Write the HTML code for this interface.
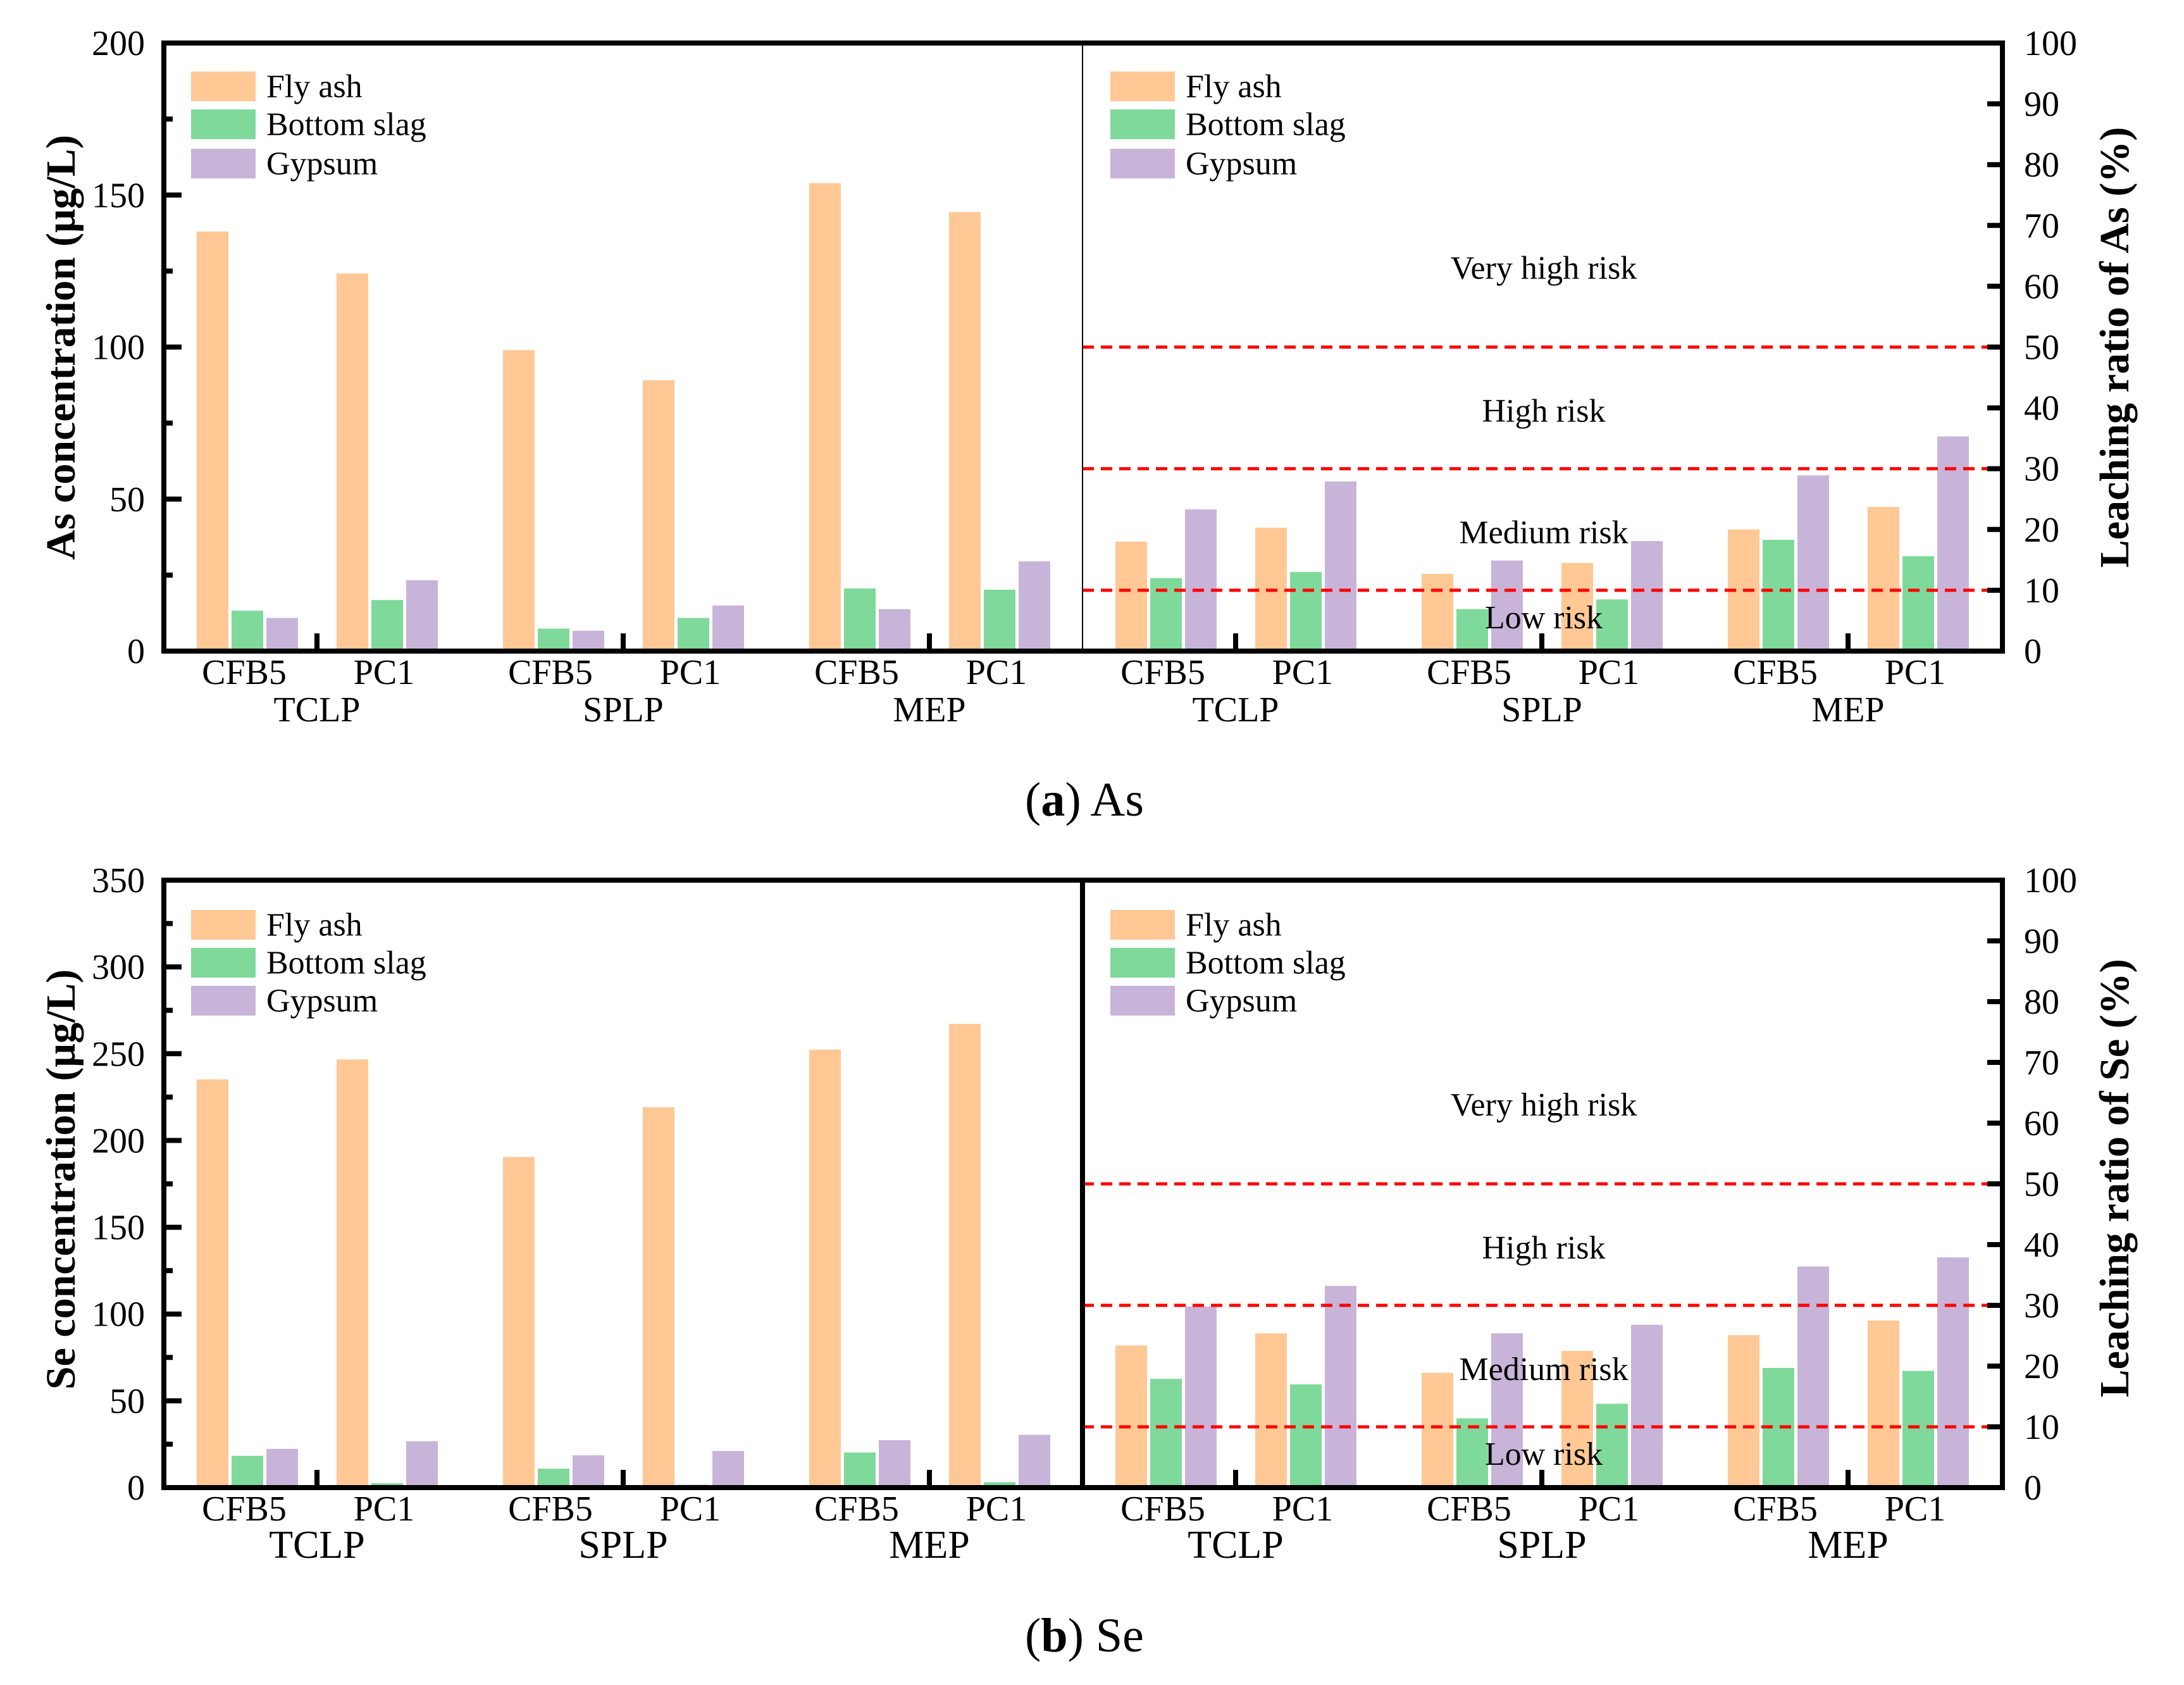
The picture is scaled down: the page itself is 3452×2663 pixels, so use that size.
<!DOCTYPE html>
<html><head><meta charset="utf-8"><style>
html,body{margin:0;padding:0;background:#fff;}
svg{display:block;}
svg text{font-family:"Liberation Serif","DejaVu Serif",serif;}
</style></head><body>
<svg id="chart" xmlns="http://www.w3.org/2000/svg" width="3452" height="2663" viewBox="0 0 3452 2663" font-family="Liberation Serif, serif">
</svg>
<script>
// ---- data ----
const methods = ["TCLP", "SPLP", "MEP"];
const samples = ["CFB5", "PC1"];
const seriesNames = ["Fly ash", "Bottom slag", "Gypsum"];
const seriesColors = ["#FFC895", "#7FD99A", "#C8B4D8"];
// As concentration (µg/L), order: TCLP-CFB5, TCLP-PC1, SPLP-CFB5, SPLP-PC1, MEP-CFB5, MEP-PC1
const asFlyAsh = [138.0, 124.2, 99.0, 89.1, 153.9, 144.4];
const asBottomSlag = [13.3, 16.8, 7.4, 10.9, 20.6, 20.2];
const asGypsum = [10.9, 23.3, 6.7, 15.0, 13.8, 29.5];
// As leaching ratio (%)
const asRatioFlyAsh = [18.0, 20.3, 12.7, 14.5, 20.0, 23.7];
const asRatioBottomSlag = [12.0, 13.0, 6.9, 8.5, 18.3, 15.6];
const asRatioGypsum = [23.3, 27.9, 14.9, 18.1, 28.9, 35.3];
// Se concentration (µg/L)
const seFlyAsh = [235.2, 246.7, 190.5, 219.1, 252.3, 267.2];
const seBottomSlag = [18.3, 2.5, 10.9, 1.6, 20.2, 3.1];
const seGypsum = [22.3, 26.7, 18.6, 21.1, 27.3, 30.4];
// Se leaching ratio (%)
const seRatioFlyAsh = [23.4, 25.4, 18.9, 22.5, 25.1, 27.5];
const seRatioBottomSlag = [17.9, 17.0, 11.4, 13.8, 19.7, 19.2];
const seRatioGypsum = [29.8, 33.2, 25.4, 26.8, 36.4, 37.9];
// risk thresholds (%) and labels
const riskLines = [10, 30, 50];
const riskLabels = ["Low risk", "Medium risk", "High risk", "Very high risk"];
const riskLabelValues = [5.5, 19.5, 39.5, 63];
const asTicks = [0, 50, 100, 150, 200];
const seTicks = [0, 50, 100, 150, 200, 250, 300, 350];
const ratioTicks = [0, 10, 20, 30, 40, 50, 60, 70, 80, 90, 100];

const NS = "http://www.w3.org/2000/svg";
const svg = document.getElementById("chart");
const FONT = '"Liberation Serif", "DejaVu Serif", serif';
function mk(tag, attrs, parent) {
  const e = document.createElementNS(NS, tag);
  for (const k in attrs) e.setAttribute(k, attrs[k]);
  (parent || svg).appendChild(e);
  return e;
}
function txt(s, attrs, parent) { attrs["font-family"] = FONT; const t = mk("text", attrs, parent); t.textContent = s; return t; }

const L = 259, MID = 1711, R = 3165;

function drawPanel(cfg) {
  const g = mk("g", {});
  
  
  const top = cfg.top, bot = cfg.bottom;
  const yL = v => bot - v / cfg.leftMax * (bot - top);
  const yR = v => bot - v / 100 * (bot - top);
  const gw = (MID - L) / 3;
  function bars(x0, series, yf, side) {
    for (let m = 0; m < 3; m++) {
      for (let s = 0; s < 2; s++) {
        const center = x0 + gw * m + (s === 0 ? 127 : 348);
        for (let k = 0; k < 3; k++) {
          const v = series[k][m * 2 + s];
          const x = center - 75 + k * 55;
          const r = mk("rect", {x: x, y: yf(v), width: 50, height: yf(0) - yf(v), fill: seriesColors[k]}, g);
          
          
        }
        const lab = txt(samples[s], {x: center, y: bot + 52, "font-size": 56, "text-anchor": "middle"}, g);
        
        
      }
      const ml = txt(methods[m], {x: x0 + gw * m + 242, y: bot + 111, "font-size": cfg.methodFont, "text-anchor": "middle"}, g);
      
      
      mk("line", {x1: x0 + gw * m + 242, x2: x0 + gw * m + 242, y1: bot, y2: bot - 28, stroke: "#000", "stroke-width": 8}, g);
    }
  }
  bars(L, cfg.left, yL, 'left');
  bars(MID, cfg.right, yR, 'right');
  riskLines.forEach(v => {
    const l = mk("line", {x1: MID, x2: R, y1: yR(v), y2: yR(v), stroke: "#ff0000", "stroke-width": 5, "stroke-dasharray": "18 11"}, g);
    
    
  });
  riskLabels.forEach((s, i) => {
    const t = txt(s, {x: 2440, y: yR(riskLabelValues[i]) + 17, "font-size": 52, "text-anchor": "middle"}, g);
    
    
  });
  mk("rect", {x: L, y: top, width: R - L, height: bot - top, fill: "none", stroke: "#000", "stroke-width": 8}, g);
  mk("line", {x1: MID, x2: MID, y1: top, y2: bot, stroke: "#000", "stroke-width": cfg.divW}, g);
  const step = cfg.leftTicks[1] - cfg.leftTicks[0];
  cfg.leftTicks.forEach(v => {
    if (v > 0 && v < cfg.leftMax) mk("line", {x1: L, x2: L + 28, y1: yL(v), y2: yL(v), stroke: "#000", "stroke-width": 8}, g);
    if (v < cfg.leftMax) mk("line", {x1: L, x2: L + 14, y1: yL(v + step / 2), y2: yL(v + step / 2), stroke: "#000", "stroke-width": 8}, g);
    const t = txt(String(v), {x: 229, y: yL(v) + 19, "font-size": 56, "text-anchor": "end"}, g);
    
    
  });
  ratioTicks.forEach(v => {
    if (v > 0 && v < 100) mk("line", {x1: R, x2: R - 24, y1: yR(v), y2: yR(v), stroke: "#000", "stroke-width": 8}, g);
    const t = txt(String(v), {x: 3199, y: yR(v) + 19, "font-size": 56}, g);
    
    
  });
  const lt = txt(cfg.leftTitle, {x: 0, y: 0, "font-size": 66, "font-weight": "bold", "text-anchor": "middle", transform: "translate(118," + cfg.leftTitleY + ") rotate(-90)"}, g);
  
  
  const rt = txt(cfg.rightTitle, {x: 0, y: 0, "font-size": 66, "font-weight": "bold", "text-anchor": "middle", transform: "translate(3364," + cfg.rightTitleY + ") rotate(-90)"}, g);
  
  
  [302, 1755].forEach((lx, li) => {
    const lg = mk("g", {}, g);
    
    
    seriesNames.forEach((s, k) => {
      const yy = cfg.legendY[k];
      mk("rect", {x: lx, y: yy, width: 102, height: cfg.legendH, fill: seriesColors[k]}, lg);
      const t = txt(s, {x: lx + 119, y: yy + cfg.legendH / 2 + 17, "font-size": 52}, lg);
      
      
    });
  });
  const cap = txt("", {x: 1620, y: cfg.capY, "font-size": 76}, g);
  
  
  cap.innerHTML = '(<tspan font-weight="bold">' + cfg.capLetter + '</tspan>) ' + cfg.capText;
}

drawPanel({name: "panel-a-as", top: 68, bottom: 1029, leftMax: 200, leftTicks: asTicks,
  left: [asFlyAsh, asBottomSlag, asGypsum], right: [asRatioFlyAsh, asRatioBottomSlag, asRatioGypsum],
  leftTitle: "As concentration (μg/L)", rightTitle: "Leaching ratio of As (%)", leftTitleY: 549, rightTitleY: 549,
  legendY: [113, 173, 235], legendH: 47, divW: 2, methodFont: 56, capY: 1289, capLetter: "a", capText: "As"});
drawPanel({name: "panel-b-se", top: 1391, bottom: 2351, leftMax: 350, leftTicks: seTicks,
  left: [seFlyAsh, seBottomSlag, seGypsum], right: [seRatioFlyAsh, seRatioBottomSlag, seRatioGypsum],
  leftTitle: "Se concentration (μg/L)", rightTitle: "Leaching ratio of Se (%)", leftTitleY: 1864, rightTitleY: 1862,
  legendY: [1438, 1498, 1558], legendH: 47, divW: 8, methodFont: 62, capY: 2610, capLetter: "b", capText: "Se"});
</script>
</body></html>
